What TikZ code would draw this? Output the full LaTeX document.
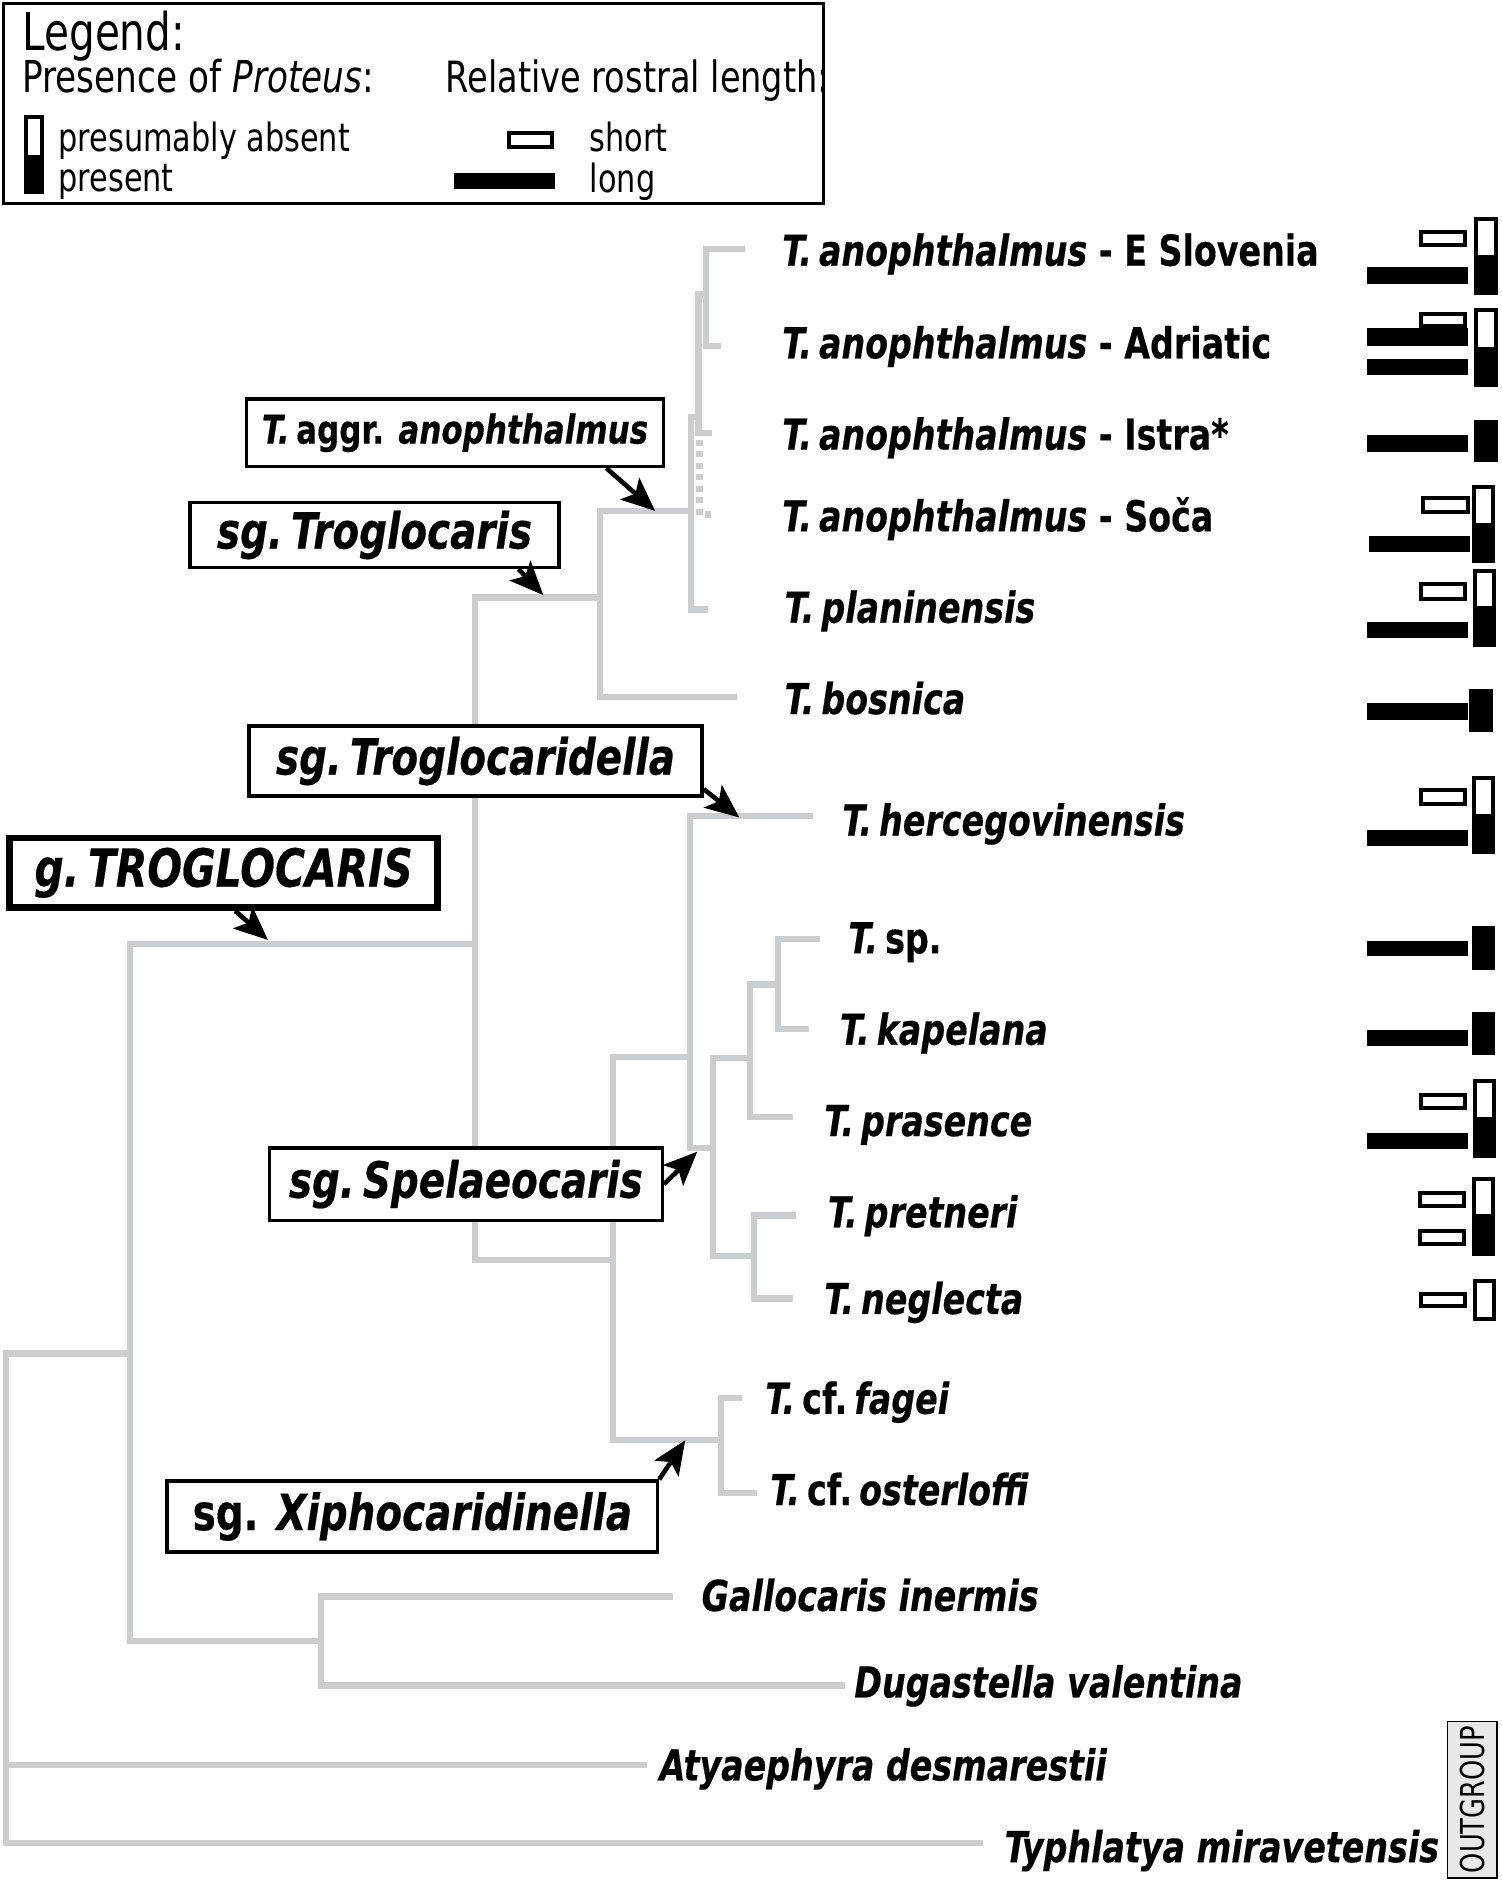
\documentclass[tikz,border=0pt]{standalone}
\usepackage{fontspec}
\setmainfont{DejaVu Sans}[FakeStretch=0.78,
  BoldFont={DejaVu Sans Bold},
  ItalicFont={DejaVu Sans Oblique},
  BoldItalicFont={DejaVu Sans Bold Oblique},
  BoldFeatures={FakeBold=0.4},
  BoldItalicFeatures={FakeBold=0.4}]
\usetikzlibrary{arrows.meta}
\definecolor{treegray}{RGB}{204,205,207}
\definecolor{outgroupfill}{RGB}{232,232,232}

\begin{document}
\begin{tikzpicture}[x=0.1mm, y=-0.1mm,
  branch/.style={draw=treegray, line width=1.5pt},
  uncertain/.style={draw=treegray, line width=1.5pt, dash pattern=on 0.5mm off 0.45mm},
  taxon/.style={anchor=base west, inner sep=0pt, font=\fontsize{10.1}{12}\selectfont\bfseries},
  clade/.style={draw, line width=0.8pt, fill=white, inner sep=0pt, font=\fontsize{11.8}{14}\selectfont\bfseries\itshape},
  pointer/.style={-{Stealth[length=8pt, width=6.8pt, inset=1.8pt]}, line width=1.1pt},
  legendtext/.style={anchor=base west, inner sep=0pt, font=\fontsize{9.2}{11}\selectfont},
  shortbar/.style={draw=black, fill=white, line width=0.95pt},
  proteus/.style={draw=black, line width=0.95pt}]
  \useasboundingbox (0,0) rectangle (1249,1568);

  \draw[line width=0.7pt] (3,3) rectangle (685,169);
  \node[legendtext, font=\fontsize{12.3}{14}\selectfont] (legendtitle) at (18,42) {Legend:};
  \node[legendtext, font=\fontsize{10.4}{12}\selectfont] (presence) at (18,77) {Presence of \textit{Proteus}:};
  \node[legendtext, font=\fontsize{10.2}{12}\selectfont] (rostral) at (370,77) {Relative rostral length:};
  \fill (22,129) rectangle (35,160);
  \draw[proteus] (22,97) rectangle (35,160);
  \node[legendtext] (absent) at (48,126) {presumably absent};
  \node[legendtext] (present) at (48,159) {present};
  \draw[shortbar] (423,111) rectangle (459,122);
  \fill (378,144) rectangle (462,157);
  \node[legendtext] (lgshort) at (490,126) {short};
  \node[legendtext] (lglong) at (490,160) {long};

  \draw[branch] (108,1126) -| (5,1533) -- (818,1533);
  \draw[branch] (5,1468) -- (538,1468);
  \draw[branch] (395,785) -| (108,1365) -- (267,1365);
  \draw[branch] (560,1328) -| (267,1402) -- (703,1402);
  \draw[branch] (499,497) -| (395,1048) -- (510,1048);
  \draw[branch] (575,425) -| (499,580) -- (613,580);
  \draw[branch] (581,347) -| (575,507) -- (589,507);
  \draw[branch] (587,245) -| (581,360) -- (592,360);
  \draw[branch] (620,207) -| (587,288) -- (600,288);
  \draw[uncertain] (582,366) -- (582,428) -- (594,428);
  \draw[branch] (574,879) -| (510,1198) -- (600,1198);
  \draw[branch] (676,679) -| (574,955) -- (593,955);
  \draw[branch] (624,880) -| (593,1045) -- (627,1045);
  \draw[branch] (647,819) -| (624,929) -- (660,929);
  \draw[branch] (682,781) -| (647,856) -- (673,856);
  \draw[branch] (662,1011) -| (627,1080) -- (660,1080);
  \draw[branch] (617,1163) -| (600,1242) -- (630,1242);

  \coordinate (aggrtip) at (545,425);
  \coordinate (trogtip) at (452,495);
  \coordinate (tdellatip) at (615,680);
  \coordinate (genustip) at (223,782);
  \coordinate (speltip) at (580,958);
  \coordinate (xiphotip) at (570,1198);

  \node[clade, minimum width=34.7mm, minimum height=5.6mm, font=\fontsize{9.4}{11}\selectfont\bfseries\itshape] (aggr) at (378.5,360) {T.\,\textup{aggr.} anophthalmus};
  \node[clade, minimum width=30.7mm, minimum height=5.4mm] (trog) at (311.5,445) {sg.\,Troglocaris};
  \node[clade, minimum width=37.7mm, minimum height=5.8mm] (tdella) at (395.5,633) {sg.\,Troglocaridella};
  \node[clade, minimum width=35.6mm, minimum height=5.8mm, line width=1.5pt, font=\fontsize{12.4}{14}\selectfont\bfseries\itshape] (genus) at (186,726) {g.\,TROGLOCARIS};
  \node[clade, minimum width=32.7mm, minimum height=6mm] (spel) at (387.5,985) {sg.\,Spelaeocaris};
  \node[clade, minimum width=40.8mm, minimum height=5.9mm] (xipho) at (343,1261.5) {\textup{sg.} Xiphocaridinella};

  \draw[pointer] ([xshift=-4.9mm]aggr.south east) -- (aggrtip);
  \draw[pointer] ([xshift=-3.5mm]trog.south east) -- (trogtip);
  \draw[pointer] ([yshift=0.7mm]tdella.south east) -- (tdellatip);
  \draw[pointer] ([xshift=-17.1mm]genus.south east) -- (genustip);
  \draw[pointer] (spel.east) -- (speltip);
  \draw[pointer] (xipho.north east) -- (xiphotip);

  \node[taxon] (eslov) at (650,221) {\textit{T.\,anophthalmus} - E Slovenia};
  \node[taxon] (adriatic) at (650,298) {\textit{T.\,anophthalmus} - Adriatic};
  \node[taxon] (istra) at (650,374) {\textit{T.\,anophthalmus} - Istra*};
  \node[taxon] (soca) at (650,442) {\textit{T.\,anophthalmus} - Soča};
  \node[taxon] (planin) at (652,518) {\textit{T.\,planinensis}};
  \node[taxon] (bosnica) at (652,594) {\textit{T.\,bosnica}};
  \node[taxon] (herceg) at (700,695) {\textit{T.\,hercegovinensis}};
  \node[taxon] (tsp) at (705,793) {\textit{T.}\,sp.};
  \node[taxon] (kapelana) at (698,869) {\textit{T.\,kapelana}};
  \node[taxon] (prasence) at (685,945) {\textit{T.\,prasence}};
  \node[taxon] (pretneri) at (688,1021) {\textit{T.\,pretneri}};
  \node[taxon] (neglecta) at (685,1093) {\textit{T.\,neglecta}};
  \node[taxon] (fagei) at (636,1176) {\textit{T.}\,cf.\,\textit{fagei}};
  \node[taxon] (osterloffi) at (640,1252) {\textit{T.}\,cf.\,\textit{osterloffi}};
  \node[taxon] (gallocaris) at (583,1340) {\textit{Gallocaris inermis}};
  \node[taxon] (dugastella) at (710,1412) {\textit{Dugastella valentina}};
  \node[taxon] (atyaephyra) at (548,1481) {\textit{Atyaephyra desmarestii}};
  \node[taxon] (typhlatya) at (835,1549) {\textit{Typhlatya miravetensis}};

  \node[draw, fill=outgroupfill, line width=0.4pt, rotate=90, minimum width=13mm, minimum height=4.1mm, inner sep=0pt, font=\fontsize{7.8}{9}\selectfont] (outgroup) at (1224.5,1497) {OUTGROUP};

  \draw[shortbar] (1182,193) rectangle (1219,204);
  \fill (1137,222) rectangle (1221,236);
  \fill (1228,212) rectangle (1244,244);
  \draw[proteus] (1228,182) rectangle (1244,244);

  \draw[shortbar] (1182,261) rectangle (1219,271);
  \fill (1137,273) rectangle (1221,287.5);
  \fill (1137,298.5) rectangle (1221,312);
  \fill (1228,288.5) rectangle (1244,320);
  \draw[proteus] (1228,258) rectangle (1244,320);

  \fill (1137,362) rectangle (1221,376);
  \filldraw[proteus] (1228,351) rectangle (1244,383);

  \draw[shortbar] (1184,414.5) rectangle (1221,425.5);
  \fill (1139,445.5) rectangle (1223,459);
  \fill (1226,435) rectangle (1242,467);
  \draw[proteus] (1226,405) rectangle (1242,467);

  \draw[shortbar] (1182,486) rectangle (1219,498);
  \fill (1137,517) rectangle (1221,531);
  \fill (1227,504) rectangle (1243,536.5);
  \draw[proteus] (1227,475) rectangle (1243,536.5);

  \fill (1137,585) rectangle (1221,599);
  \filldraw[proteus] (1224,575) rectangle (1240,607.6);

  \draw[shortbar] (1182,657.5) rectangle (1219,668.8);
  \fill (1137,690.7) rectangle (1221,704);
  \fill (1226,677) rectangle (1242,709);
  \draw[proteus] (1226,647) rectangle (1242,709);

  \fill (1137,782.4) rectangle (1221,795.5);
  \filldraw[proteus] (1226,772) rectangle (1242,805);

  \fill (1137,856.5) rectangle (1221,870);
  \filldraw[proteus] (1226,843.5) rectangle (1242,876);

  \draw[shortbar] (1182,910.5) rectangle (1219,921.4);
  \fill (1137,942.3) rectangle (1221,955.7);
  \fill (1227,929) rectangle (1243,961.6);
  \draw[proteus] (1227,899) rectangle (1243,961.6);

  \draw[shortbar] (1181,992) rectangle (1218,1003);
  \draw[shortbar] (1181,1023.7) rectangle (1218,1034.5);
  \fill (1226,1010) rectangle (1242,1043);
  \draw[proteus] (1226,980.5) rectangle (1242,1043);

  \draw[shortbar] (1182,1076) rectangle (1219,1086);
  \draw[proteus] (1227,1065.4) rectangle (1243,1097);

\end{tikzpicture}
\end{document}
